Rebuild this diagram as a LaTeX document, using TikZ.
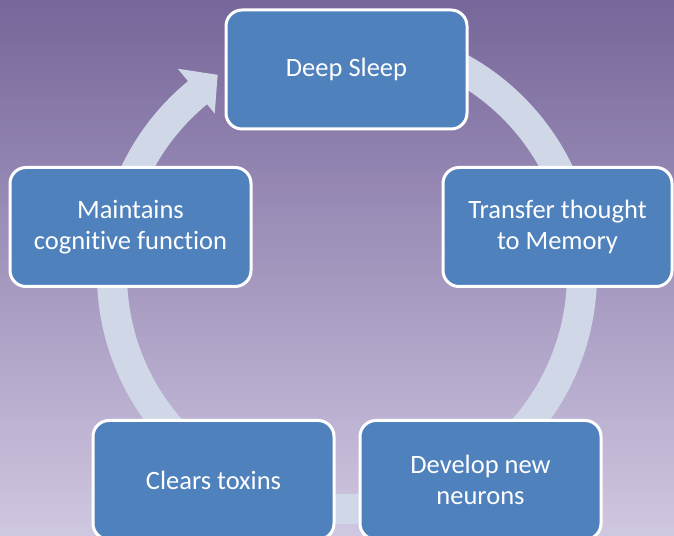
\documentclass[tikz,border=0pt]{standalone}
\usepackage{fontspec}
\setmainfont[Ligatures=NoCommon]{Carlito}
\usetikzlibrary{calc}
\definecolor{bgtop}{RGB}{118,102,154}
\definecolor{bgbot}{RGB}{208,199,225}
\definecolor{ringc}{RGB}{208,216,232}
\definecolor{boxc}{RGB}{79,129,189}
\tikzset{
  stagebox/.style={draw=white, line width=3pt, fill=boxc, rounded corners=16pt,
    minimum width=241pt, minimum height=119pt, text=white, align=center,
    font=\fontsize{26.5}{31}\selectfont, inner sep=0pt},
  ringfill/.style={fill=ringc}
}
\begin{document}
\begin{tikzpicture}[x=1pt,y=1pt]
\useasboundingbox (0,0) rectangle (674,535);
\clip (0,0) rectangle (674,535);
\shade[top color=bgtop, bottom color=bgbot] (0,0) rectangle (674,535);
\begin{scope}[shift={(347,261)}]
\fill[ringfill] (80:250) arc[start angle=80, end angle=-230.5, radius=250]
  -- (-230.5:266) -- (-237:237.5) -- (-230.5:208) -- (-230.5:220)
  arc[start angle=-230.5, end angle=80, radius=220] -- cycle;
\end{scope}
\node[stagebox] (deep) at (346.5,465.5) {Deep Sleep};
\node[stagebox, minimum width=229pt] (transfer) at (557.5,308) {Transfer thought\\to Memory};
\node[stagebox] (develop) at (480.5,55) {Develop new\\neurons};
\node[stagebox] (clears) at (213.5,55) {Clears toxins};
\node[stagebox] (maintains) at (130.5,308) {Maintains\\cognitive function};
\end{tikzpicture}
\end{document}
